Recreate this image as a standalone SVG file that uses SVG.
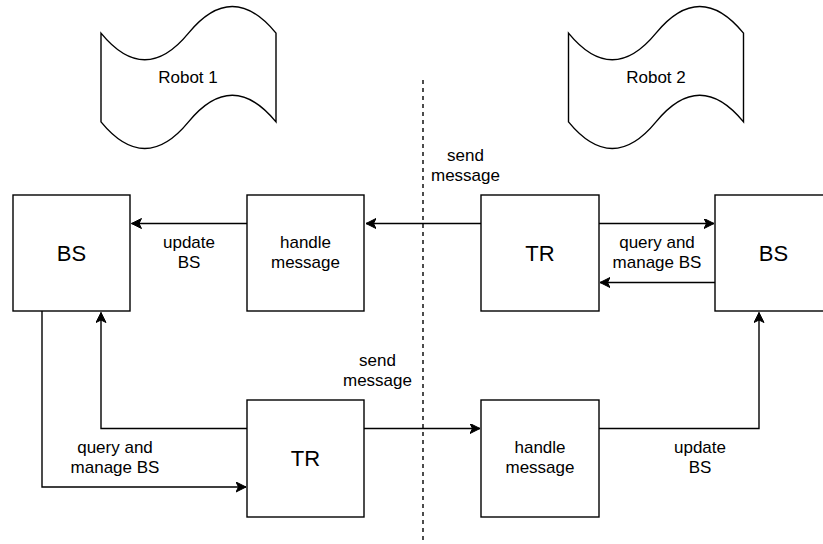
<svg xmlns="http://www.w3.org/2000/svg" width="823" height="544" viewBox="0 0 823 544">
<style>
.box{fill:#fff;stroke:#000;stroke-width:1.4}
.edge{fill:none;stroke:#000;stroke-width:1.4}
.lbl{font-family:"Liberation Sans",Arial,Helvetica,sans-serif;font-size:17px;fill:#000;text-anchor:middle}
.big{font-family:"Liberation Sans",Arial,Helvetica,sans-serif;font-size:22px;fill:#000;text-anchor:middle}
</style>
<defs>
<marker id="arr" markerUnits="userSpaceOnUse" markerWidth="12" markerHeight="12" refX="10" refY="5" orient="auto" viewBox="0 0 12 12">
<path d="M10,5 L0,0 L2.5,5 L0,10 Z" fill="#000" stroke="#000" stroke-width="1"/>
</marker>
<path id="tape" d="M0 29.6 Q43.75 82.88 87.5 29.6 Q131.25 -23.68 175 29.6 L175 118.4 Q131.25 65.12 87.5 118.4 Q43.75 171.68 0 118.4 Z"/>
</defs>
<rect width="823" height="544" fill="#fff"/>

<g id="divider">
<line x1="423" y1="80" x2="423" y2="544" stroke="#000" stroke-width="1.4" stroke-dasharray="4 4"/>
</g>

<g id="robot1">
<use href="#tape" transform="translate(101,3.5)" class="box"/>
<text x="188" y="83" class="lbl">Robot 1</text>
</g>
<g id="robot2">
<use href="#tape" transform="translate(568.5,3.5)" class="box"/>
<text x="656" y="83" class="lbl">Robot 2</text>
</g>

<g id="connectors">
<path class="edge" d="M481 223.5 L366 223.5" marker-end="url(#arr)"/>
<path class="edge" d="M247 223.5 L131.5 223.5" marker-end="url(#arr)"/>
<path class="edge" d="M599 223.5 L714 223.5" marker-end="url(#arr)"/>
<path class="edge" d="M715 282.5 L600 282.5" marker-end="url(#arr)"/>
<path class="edge" d="M247 428.5 L101 428.5 L101 312.5" marker-end="url(#arr)"/>
<path class="edge" d="M42 311 L42 487 L246 487" marker-end="url(#arr)"/>
<path class="edge" d="M364 428.5 L480 428.5" marker-end="url(#arr)"/>
<path class="edge" d="M599 428.5 L759 428.5 L759 312.5" marker-end="url(#arr)"/>
<text x="465.5" y="161" class="lbl">send</text>
<text x="465.5" y="181" class="lbl">message</text>
<text x="189" y="248" class="lbl">update</text>
<text x="189" y="268" class="lbl">BS</text>
<text x="657" y="248" class="lbl">query and</text>
<text x="657" y="268" class="lbl">manage BS</text>
<text x="377.5" y="365.5" class="lbl">send</text>
<text x="377.5" y="385.5" class="lbl">message</text>
<text x="115" y="453" class="lbl">query and</text>
<text x="115" y="473" class="lbl">manage BS</text>
<text x="700" y="453" class="lbl">update</text>
<text x="700" y="473" class="lbl">BS</text>
</g>

<g id="bs1">
<rect x="13" y="195" width="117" height="116" class="box"/>
<text x="71.5" y="261" class="big">BS</text>
</g>
<g id="handle1">
<rect x="247" y="195" width="117" height="116" class="box"/>
<text x="305.5" y="248" class="lbl">handle</text>
<text x="305.5" y="268" class="lbl">message</text>
</g>
<g id="tr2">
<rect x="481" y="195" width="118" height="116" class="box"/>
<text x="540" y="261" class="big">TR</text>
</g>
<g id="bs2">
<rect x="715" y="195" width="117" height="116" class="box"/>
<text x="773.5" y="261" class="big">BS</text>
</g>
<g id="tr1">
<rect x="247" y="400" width="117" height="117" class="box"/>
<text x="305.5" y="466" class="big">TR</text>
</g>
<g id="handle2">
<rect x="481" y="400" width="118" height="117" class="box"/>
<text x="540" y="453" class="lbl">handle</text>
<text x="540" y="473" class="lbl">message</text>
</g>
</svg>
